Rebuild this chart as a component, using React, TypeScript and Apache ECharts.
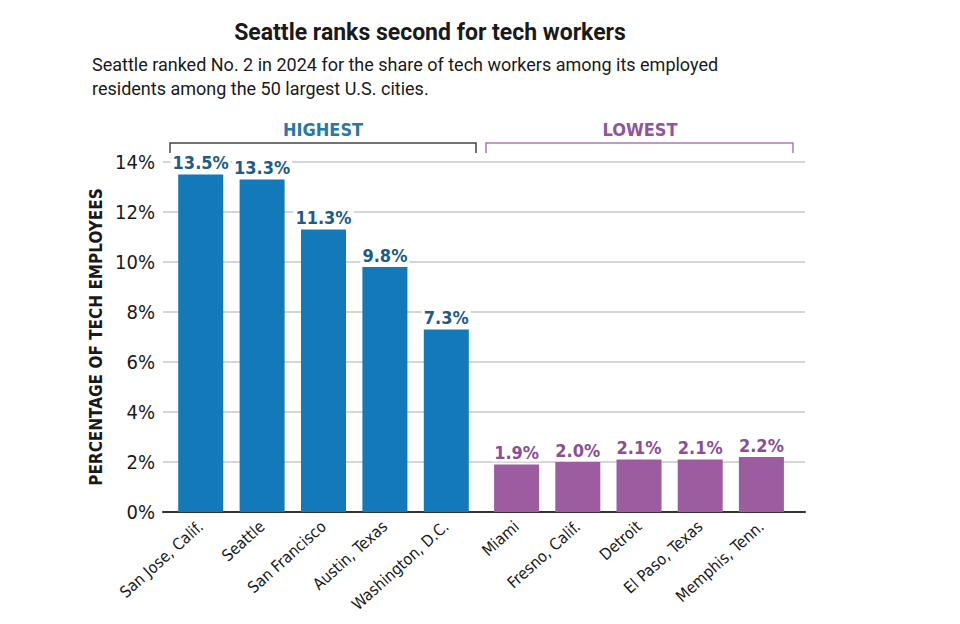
import React, { useEffect, useRef } from "react";
import * as echarts from "echarts";

const highCities = ["San Jose, Calif.", "Seattle", "San Francisco", "Austin, Texas", "Washington, D.C."];
const highValues = [13.5, 13.3, 11.3, 9.8, 7.3];
const lowCities = ["Miami", "Fresno, Calif.", "Detroit", "El Paso, Texas", "Memphis, Tenn."];
const lowValues = [1.9, 2.0, 2.1, 2.1, 2.2];
const yTicks = { min: 0, max: 14, interval: 2 };

const COND = "'DejaVu Sans Condensed', 'Liberation Sans Narrow', sans-serif";
const BLUE = "#1479b8";
const BLUE_TXT = "#1d5c86";
const PURPLE = "#9c5c9f";
const PURPLE_TXT = "#8a4f96";

export default function App() {
  const ref = useRef<HTMLDivElement>(null);
  useEffect(() => {
    if (!ref.current) return;
    const chart = echarts.init(ref.current, null, { renderer: "svg" });
    const catAxis = (idx: number, data: string[]) => ({
      type: "category",
      gridIndex: idx,
      data,
      axisLine: { show: false },
      axisTick: { show: false },
      axisLabel: {
        rotate: 42,
        margin: 12,
        fontFamily: COND,
        fontSize: 16,
        color: "#1a1a1a",
        interval: 0,
      },
    });
    const hiddenY = (idx: number) => ({
      type: "value",
      gridIndex: idx,
      min: yTicks.min,
      max: yTicks.max,
      interval: yTicks.interval,
      show: false,
      splitLine: { show: false },
    });
    const labelCfg = (color: string) => ({
      show: true,
      position: "top",
      distance: 3,
      formatter: (p: any) => p.value.toFixed(1) + "%",
      fontFamily: COND,
      fontWeight: "bold",
      fontSize: 18,
      color,
      backgroundColor: "#fff",
      padding: [1, 2, 0, 2],
    });
    chart.setOption({
      animation: false,
      backgroundColor: "#fff",
      title: [
        {
          text: "Seattle ranks second for tech workers",
          left: 430,
          textAlign: "center",
          top: 21,
          padding: 0,
          textStyle: { fontFamily: "Roboto, sans-serif", fontWeight: "bold", fontSize: 23, color: "#1a1a1a" },
        },
        {
          text: "Seattle ranked No. 2 in 2024 for the share of tech workers among its employed\nresidents among the 50 largest U.S. cities.",
          left: 92,
          top: 52,
          padding: 0,
          textStyle: { fontFamily: "Roboto, sans-serif", fontWeight: "normal", fontSize: 18, lineHeight: 24, color: "#1a1a1a" },
        },
      ],
      grid: [
        { left: 163, right: 155, top: 162, bottom: 112 },
        { left: 170, width: 307, top: 162, bottom: 112 },
        { left: 486, width: 306, top: 162, bottom: 112 },
      ],
      xAxis: [
        {
          type: "value",
          gridIndex: 0,
          min: 0,
          max: 1,
          axisLine: { show: true, onZero: false, lineStyle: { color: "#333", width: 2 } },
          axisTick: { show: false },
          axisLabel: { show: false },
          splitLine: { show: false },
        },
        catAxis(1, highCities),
        catAxis(2, lowCities),
      ],
      yAxis: [
        {
          type: "value",
          gridIndex: 0,
          min: yTicks.min,
          max: yTicks.max,
          interval: yTicks.interval,
          name: "PERCENTAGE OF TECH EMPLOYEES",
          nameLocation: "middle",
          nameGap: 50,
          nameTextStyle: { fontFamily: COND, fontWeight: "bold", fontSize: 17, color: "#1a1a1a" },
          axisLine: { show: false },
          axisTick: { show: false },
          axisLabel: { formatter: "{value}%", fontFamily: COND, fontSize: 20, color: "#1a1a1a", margin: 8 },
          splitLine: { show: true, lineStyle: { color: "#c8c8c8", width: 1.5 } },
        },
        hiddenY(1),
        hiddenY(2),
      ],
      series: [
        {
          type: "bar",
          xAxisIndex: 1,
          yAxisIndex: 1,
          data: highValues,
          barWidth: 45,
          itemStyle: { color: BLUE },
          label: labelCfg(BLUE_TXT),
          z: 3,
        },
        {
          type: "bar",
          xAxisIndex: 2,
          yAxisIndex: 2,
          data: lowValues,
          barWidth: 45,
          itemStyle: { color: PURPLE },
          label: labelCfg(PURPLE_TXT),
          z: 3,
        },
      ],
      graphic: [
        {
          type: "polyline",
          shape: { points: [[170, 153], [170, 143], [476, 143], [476, 153]] },
          style: { stroke: "#444", lineWidth: 1.5, fill: "none" },
        },
        {
          type: "polyline",
          shape: { points: [[486, 153], [486, 143], [793, 143], [793, 153]] },
          style: { stroke: "#a77cb0", lineWidth: 1.5, fill: "none" },
        },
        {
          type: "text",
          x: 323,
          y: 129,
          style: { text: "HIGHEST", fontFamily: COND, fontWeight: "bold", fontSize: 18, fill: "#2a77a8", align: "center", verticalAlign: "middle" },
        },
        {
          type: "text",
          x: 640,
          y: 129,
          style: { text: "LOWEST", fontFamily: COND, fontWeight: "bold", fontSize: 18, fill: "#8e56a0", align: "center", verticalAlign: "middle" },
        },
      ],
    });
    return () => chart.dispose();
  }, []);
  return <div ref={ref} style={{ width: 960, height: 624, margin: -8 }} />;
}
